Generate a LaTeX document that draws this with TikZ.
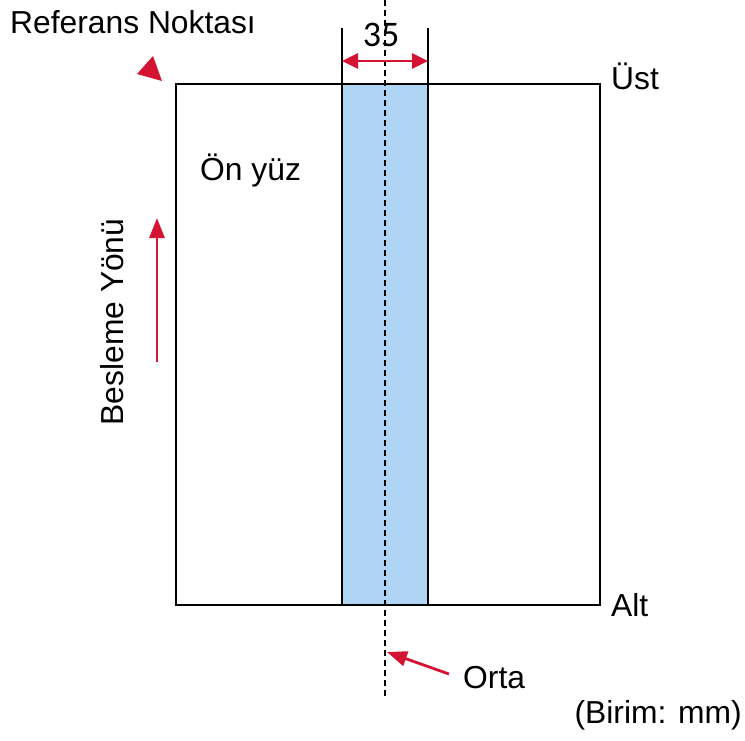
\documentclass[tikz,border=0pt]{standalone}
\usepackage{fontspec}
\setmainfont{Liberation Sans}
\newfontfamily\numfont{Carlito}
\usetikzlibrary{arrows.meta}
\definecolor{myred}{RGB}{213,20,52}
\definecolor{myblue}{RGB}{176,212,243}
\tikzset{
  lbl/.style={inner sep=0pt, font=\fontsize{31.8}{36}\selectfont},
  redarrow/.style={draw=myred, line width=2.8pt, -{Triangle[length=20pt,width=15pt]}},
  border/.style={draw=black, line width=2.9pt, outer sep=0pt, inner sep=0pt},
  thin/.style={draw=black, line width=1.1pt}
}
\begin{document}
\begin{tikzpicture}[x=1pt,y=-1pt]
\useasboundingbox (0,0) rectangle (745,740);
% strip
\node[border, fill=myblue, minimum width=86pt, minimum height=521pt, anchor=north west] (strip) at (342,84) {};
% sheet
\node[border, minimum width=424pt, minimum height=521pt, anchor=north west] (sheet) at (176,84) {};
% centre line
\coordinate (ctop) at (385,0);
\coordinate (cbot) at (385,697);
\draw[thin, dash pattern=on 6pt off 4pt] (ctop) -- (cbot);
% dimension
\coordinate (e1t) at (342,28);
\coordinate (e2t) at (428,28);
\draw[thin] (e1t) -- (strip.north west);
\draw[thin] (e2t) -- (strip.north east);
\coordinate (d1) at (342,61);
\coordinate (d2) at (428,61);
\draw[draw=myred, line width=2.8pt, {Triangle[length=16pt,width=15pt]}-{Triangle[length=16pt,width=15pt]}] (d1) -- (d2);
\node[inner sep=0pt, font=\numfont\fontsize{36}{40}\selectfont] (dim) at (381,35) {35};
% reference point
\node[lbl, anchor=west] (ref) at (10,22) {Referans Noktası};
\coordinate (t1) at (137,74);
\coordinate (t2) at (153,56);
\coordinate (t3) at (162,81);
\fill[myred] (t1) -- (t2) -- (t3) -- cycle;
% labels
\node[lbl, anchor=west] (ust) at (611,76) {Üst};
\node[lbl, anchor=west] (alt) at (611,605) {Alt};
\node[lbl, anchor=west] (onyuz) at (200,170) {Ön yüz};
\node[lbl, rotate=90] (feed) at (112,322) {Besleme Yönü};
\coordinate (fb) at (157,362);
\coordinate (ft) at (157,218);
\draw[redarrow] (fb) -- (ft);
% centre label
\node[lbl, anchor=west] (orta) at (463,678) {Orta};
\coordinate (ob) at (449,674);
\coordinate (ot) at (387,652);
\draw[redarrow] (ob) -- (ot);
\node[lbl, anchor=east] (unit) at (742,715) {(Birim: mm)};
\end{tikzpicture}
\end{document}
